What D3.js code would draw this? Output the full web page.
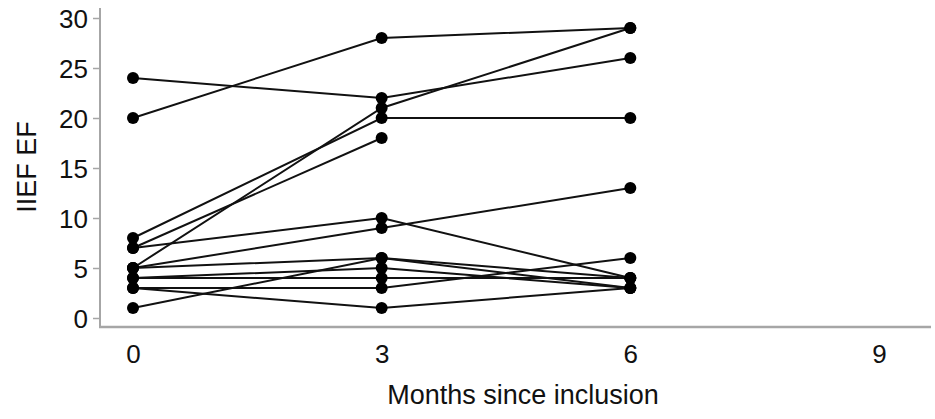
<!DOCTYPE html>
<html lang="en">
<head>
<meta charset="UTF-8">
<title>IIEF EF over time</title>
<script src="https://cdn.jsdelivr.net/npm/d3@7"></script>
<style>
  body { margin: 0; background: #fff; }
  svg { font-family: Arial, "Liberation Sans", sans-serif; }
</style>
</head>
<body>
<svg id="chart" width="935" height="419"></svg>
<script>
// months at which IIEF EF was measured
const months = [0, 3, 6];
// one row per patient (null = not measured)
const patients = [
  [24, 22, 26],
  [20, 28, 29],
  [8, 20, 20],
  [5, 21, 29],
  [7, 18, null],
  [7, 10, 4],
  [5, 9, 13],
  [5, 6, 4],
  [4, 5, 3],
  [4, 4, 4],
  [3, 3, 6],
  [3, 1, 3],
  [1, 6, 3]
];
const xTicks = [0, 3, 6, 9];
const yTicks = [0, 5, 10, 15, 20, 25, 30];

const svg = d3.select("#chart");
const axisColor = "#a6a6a6";

const x = d3.scaleLinear().domain([0, 9]).range([133, 879]);
const y = d3.scaleLinear().domain([0, 30]).range([318, 18]);

// axes
const yAxis = svg.append("g")
  .attr("transform", "translate(100,0)")
  .call(d3.axisLeft(y).tickValues(yTicks).tickSize(7).tickPadding(5));
yAxis.select(".domain").remove();
yAxis.selectAll(".tick line").attr("stroke", axisColor).attr("stroke-width", 1.5);
yAxis.selectAll(".tick text")
  .attr("font-size", 26).attr("fill", "#111").attr("font-family", null)
  .attr("dy", "0.36em");

const xAxis = svg.append("g")
  .attr("transform", "translate(0,327)")
  .call(d3.axisBottom(x).tickValues(xTicks).tickSize(0).tickPadding(18));
xAxis.select(".domain").remove();
xAxis.selectAll(".tick text")
  .attr("font-size", 26).attr("fill", "#111").attr("font-family", null);

svg.append("line")
  .attr("x1", 100).attr("x2", 100).attr("y1", 8).attr("y2", 328)
  .attr("stroke", axisColor).attr("stroke-width", 2);
svg.append("line")
  .attr("x1", 99).attr("x2", 931).attr("y1", 327).attr("y2", 327)
  .attr("stroke", axisColor).attr("stroke-width", 2.5);

// titles
svg.append("text")
  .attr("x", 523).attr("y", 404)
  .attr("text-anchor", "middle")
  .attr("font-size", 27).attr("fill", "#111")
  .text("Months since inclusion");
svg.append("text")
  .attr("transform", "translate(36,167) rotate(-90)")
  .attr("text-anchor", "middle")
  .attr("font-size", 27).attr("fill", "#111")
  .text("IIEF EF");

// patient trajectories
const line = d3.line()
  .defined(d => d != null)
  .x((d, i) => x(months[i]))
  .y(d => y(d));

svg.append("g")
  .selectAll("path")
  .data(patients)
  .join("path")
  .attr("d", line)
  .attr("fill", "none")
  .attr("stroke", "#111")
  .attr("stroke-width", 2);

const pts = patients.flatMap(p => p.map((v, i) => ({ m: months[i], v })))
  .filter(d => d.v != null);

svg.append("g")
  .selectAll("circle")
  .data(pts)
  .join("circle")
  .attr("cx", d => x(d.m))
  .attr("cy", d => y(d.v))
  .attr("r", 6)
  .attr("fill", "#000");
</script>
</body>
</html>
